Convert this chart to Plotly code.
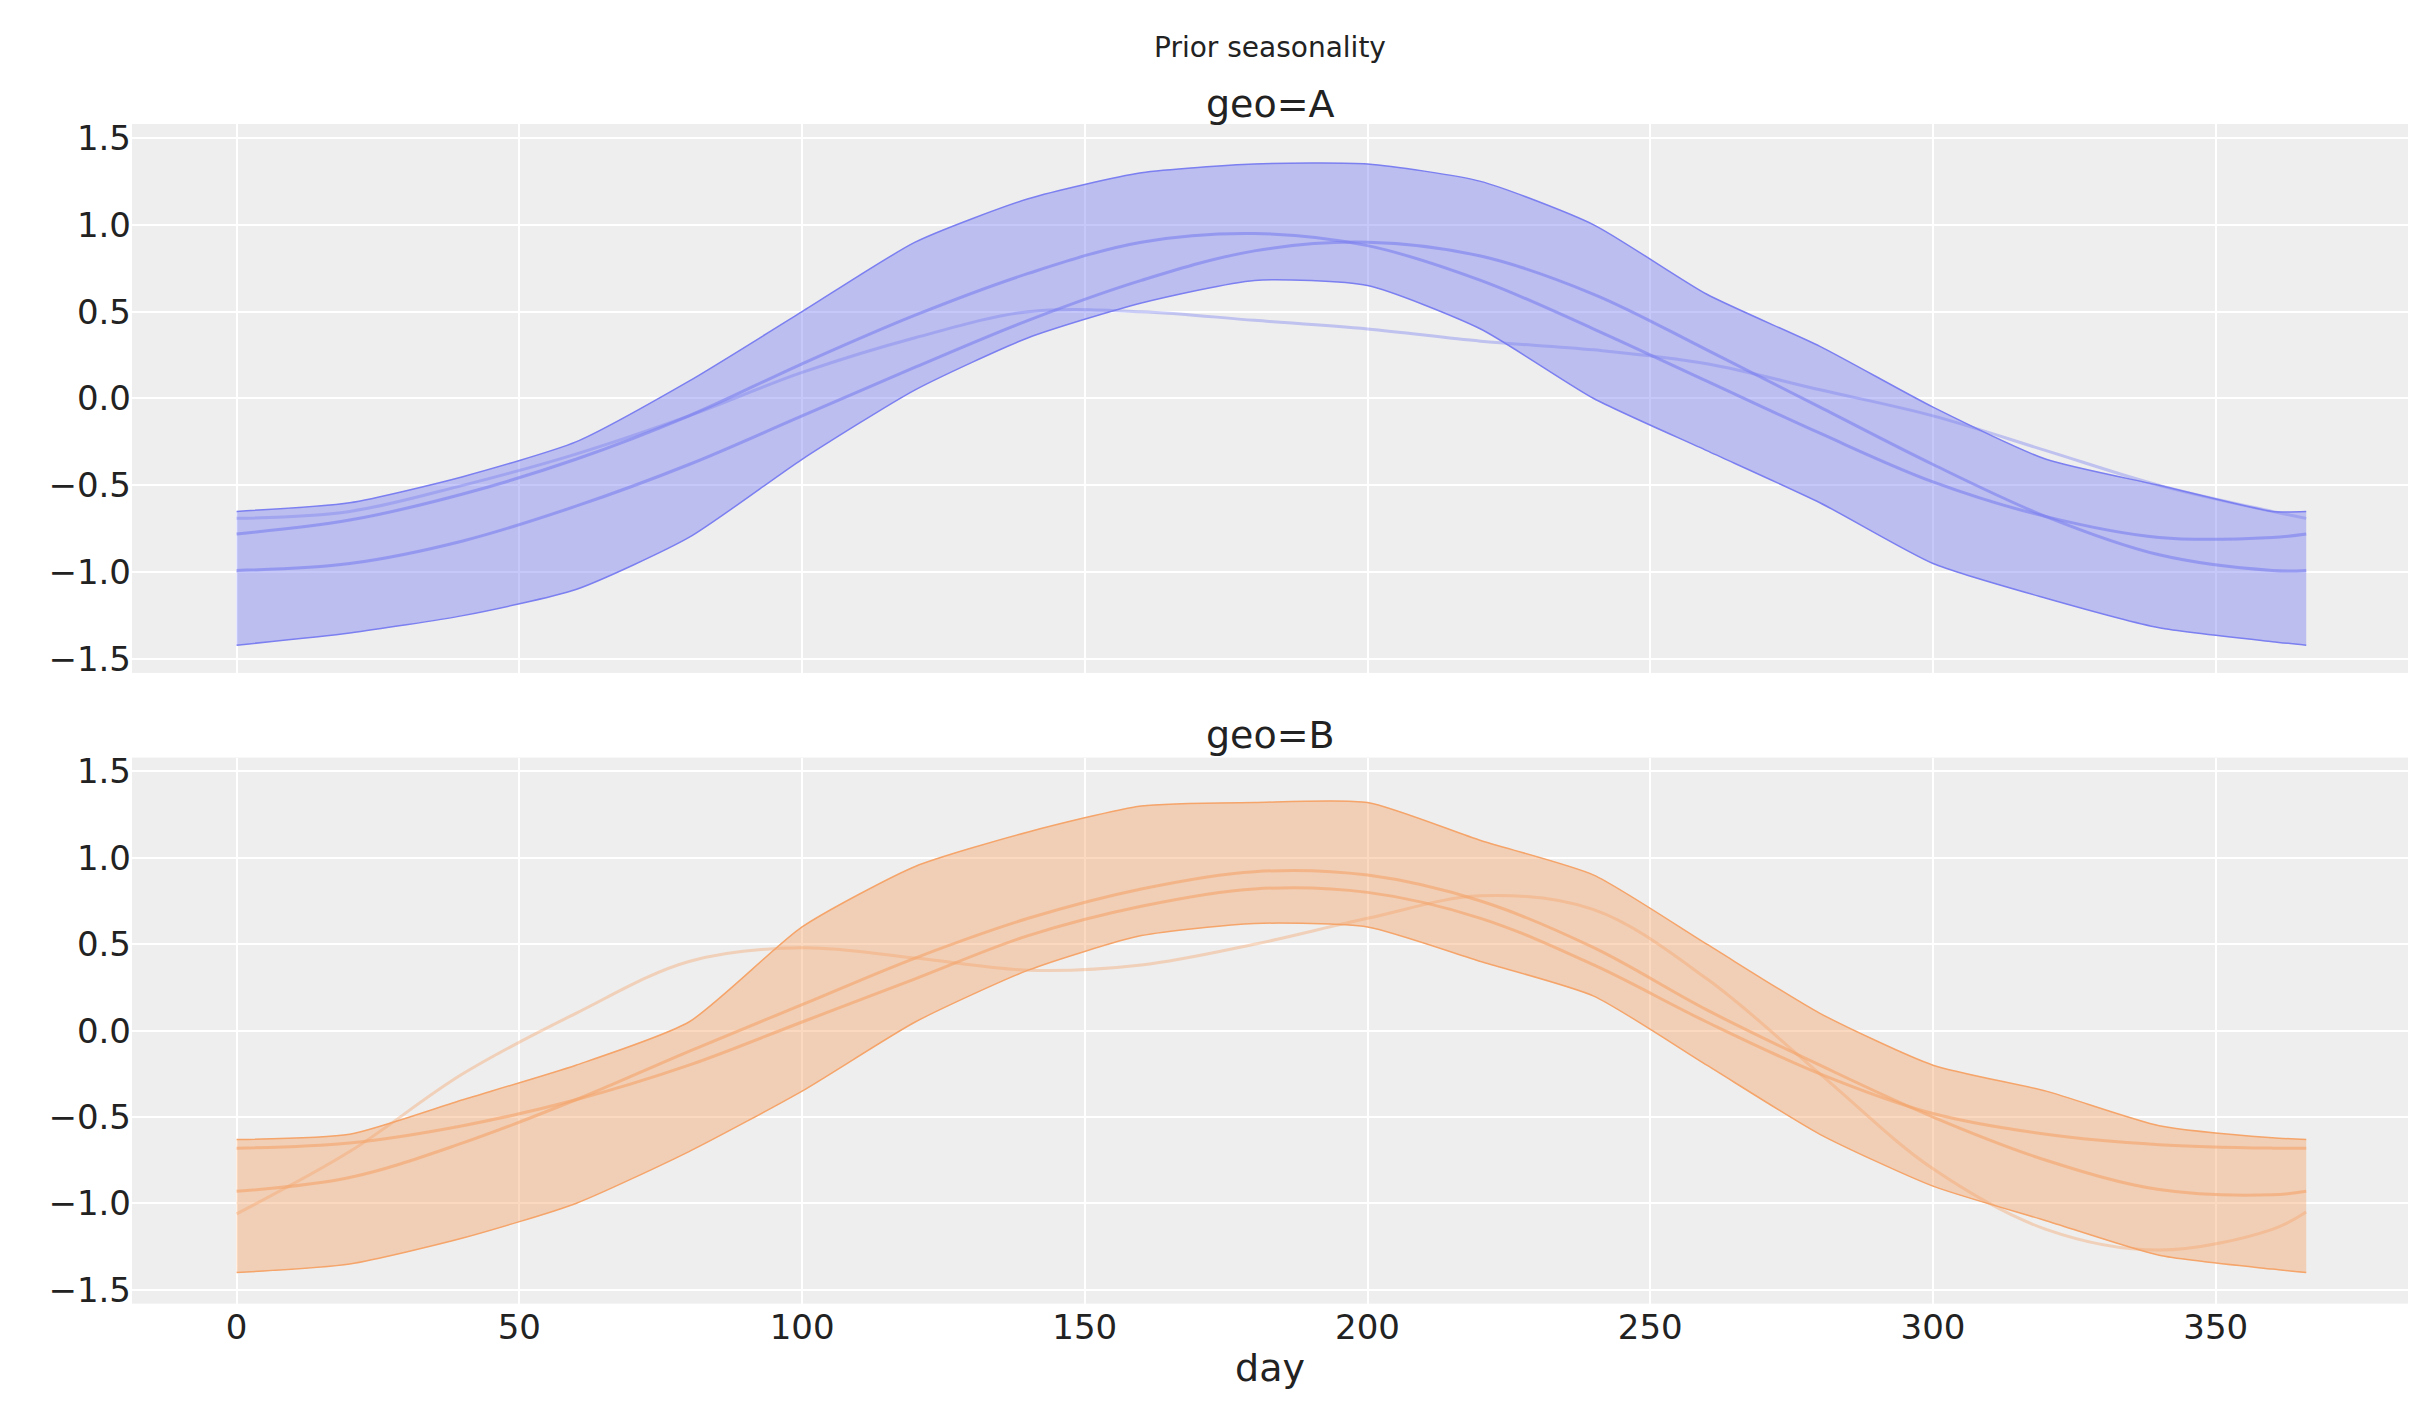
import plotly.graph_objects as go

days = [0, 20, 40, 60, 80, 100, 120, 140, 160, 180, 200, 220, 240, 260, 280, 300, 320, 340, 360, 366]

a_upper = [-0.65, -0.6, -0.45, -0.25, 0.1, 0.5, 0.9, 1.15, 1.3, 1.35, 1.35, 1.25, 1.0, 0.6, 0.3, -0.05, -0.35, -0.5, -0.65, -0.65]
a_lower = [-1.42, -1.35, -1.25, -1.1, -0.8, -0.35, 0.05, 0.35, 0.55, 0.68, 0.65, 0.4, 0.0, -0.3, -0.6, -0.95, -1.15, -1.32, -1.4, -1.42]
a_lines = [
    [-0.99, -0.95, -0.82, -0.62, -0.38, -0.1, 0.18, 0.45, 0.68, 0.85, 0.9, 0.82, 0.6, 0.28, -0.05, -0.38, -0.68, -0.9, -0.99, -0.99],
    [-0.78, -0.7, -0.55, -0.35, -0.1, 0.2, 0.48, 0.72, 0.9, 0.95, 0.88, 0.68, 0.4, 0.1, -0.2, -0.48, -0.68, -0.8, -0.8, -0.78],
    [-0.69, -0.65, -0.5, -0.32, -0.1, 0.15, 0.35, 0.5, 0.5, 0.45, 0.4, 0.33, 0.28, 0.2, 0.05, -0.1, -0.3, -0.5, -0.65, -0.69],
]

b_upper = [-0.63, -0.6, -0.4, -0.2, 0.05, 0.6, 0.95, 1.15, 1.3, 1.32, 1.32, 1.1, 0.9, 0.5, 0.1, -0.2, -0.35, -0.55, -0.62, -0.63]
b_lower = [-1.4, -1.35, -1.2, -1.0, -0.7, -0.35, 0.05, 0.35, 0.55, 0.62, 0.6, 0.4, 0.2, -0.2, -0.6, -0.9, -1.1, -1.3, -1.38, -1.4]
b_lines = [
    [-0.68, -0.65, -0.55, -0.4, -0.2, 0.05, 0.3, 0.55, 0.72, 0.82, 0.8, 0.65, 0.38, 0.05, -0.25, -0.48, -0.6, -0.66, -0.68, -0.68],
    [-0.93, -0.85, -0.65, -0.4, -0.12, 0.15, 0.42, 0.65, 0.82, 0.92, 0.9, 0.75, 0.48, 0.12, -0.2, -0.5, -0.75, -0.92, -0.95, -0.93],
    [-1.06, -0.7, -0.25, 0.1, 0.4, 0.48, 0.42, 0.35, 0.38, 0.5, 0.65, 0.78, 0.7, 0.3, -0.25, -0.8, -1.15, -1.27, -1.15, -1.05],
]

ticks_y = [-1.5, -1, -0.5, 0, 0.5, 1, 1.5]
ticks_y_text = ["−1.5", "−1.0", "−0.5", "0.0", "0.5", "1.0", "1.5"]
ticks_x = [0, 50, 100, 150, 200, 250, 300, 350]

fig = go.Figure()

def add_panel(upper, lower, lines, line_col, fill_col, xa, ya):
    fig.add_trace(go.Scatter(x=days, y=upper, mode="lines", line=dict(color=line_col, width=1.5, shape="spline", smoothing=0.6),
                             xaxis=xa, yaxis=ya, showlegend=False))
    fig.add_trace(go.Scatter(x=days, y=lower, mode="lines", line=dict(color=line_col, width=1.5, shape="spline", smoothing=0.6),
                             fill="tonexty", fillcolor=fill_col, xaxis=xa, yaxis=ya, showlegend=False))
    for i, ys in enumerate(lines):
        fig.add_trace(go.Scatter(x=days, y=ys, mode="lines", line=dict(color=line_col, width=3, shape="spline"),
                                 opacity=0.6 if i < 2 else 0.4, xaxis=xa, yaxis=ya, showlegend=False))

add_panel(a_upper, a_lower, a_lines, "#7b7ff0", "rgba(120,125,240,0.42)", "x2", "y")
add_panel(b_upper, b_lower, b_lines, "#f5a46a", "rgba(245,165,105,0.42)", "x", "y2")

ax = dict(showgrid=True, gridcolor="white", gridwidth=2, zeroline=False, showline=False,
          tickfont=dict(size=34, color="#222"), ticks="")
fig.update_layout(
    width=2423, height=1423, paper_bgcolor="white", plot_bgcolor="#eeeeee",
    margin=dict(l=124, r=23, t=0, b=0),
    font=dict(family="DejaVu Sans", color="#222"),
    xaxis=dict(ax, range=[-18.5, 384], anchor="y2", tickvals=ticks_x,
               title=dict(text="day", font=dict(size=38), standoff=8)),
    xaxis2=dict(ax, overlaying="x", anchor="y", range=[-18.5, 384], tickvals=ticks_x, showticklabels=False),
    yaxis=dict(ax, domain=[0.533, 0.922], range=[-1.58, 1.58], tickvals=ticks_y, ticktext=ticks_y_text),
    yaxis2=dict(ax, domain=[0.086, 0.473], range=[-1.58, 1.58], tickvals=ticks_y, ticktext=ticks_y_text),
    annotations=[
        dict(text="Prior seasonality", x=0.5, y=0.976, xref="paper", yref="paper", showarrow=False,
             font=dict(size=28), yanchor="middle"),
        dict(text="geo=A", x=0.5, y=0.936, xref="paper", yref="paper", showarrow=False,
             font=dict(size=38), yanchor="middle"),
        dict(text="geo=B", x=0.5, y=0.489, xref="paper", yref="paper", showarrow=False,
             font=dict(size=38), yanchor="middle"),
    ],
)
fig.write_html("out.html")
